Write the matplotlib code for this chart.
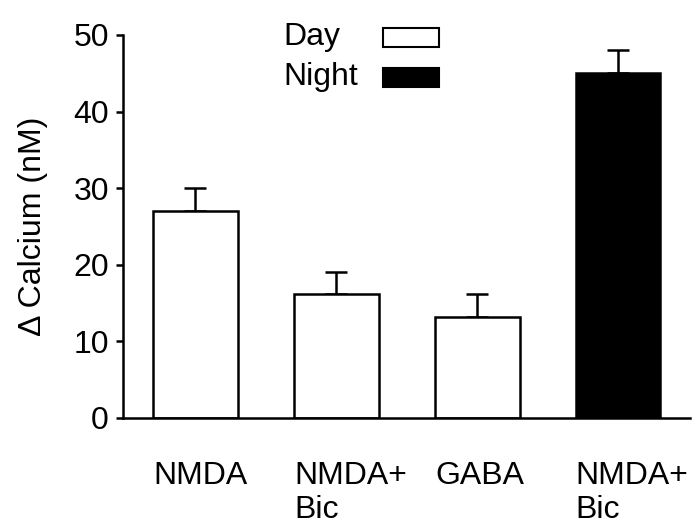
import matplotlib
matplotlib.use("Agg")
import matplotlib.pyplot as plt
from matplotlib.patches import Rectangle

plt.rcParams['font.family'] = ['Liberation Sans', 'DejaVu Sans']

# dados
categorias = ["NMDA", "NMDA+\nBic", "GABA", "NMDA+\nBic"]
valores = [27, 16.2, 13.1, 45.1]
erros = [3.0, 2.9, 3.1, 2.9]
grupo = ["Day", "Day", "Day", "Night"]
cores = {"Day": "white", "Night": "black"}

W, H = 699, 529
fig = plt.figure(figsize=(W / 100, H / 100), dpi=100)
ax = fig.add_axes([122.7 / W, 1 - 417.7 / H, (690 - 122.7) / W, (417.7 - 35) / H])

x = list(range(len(categorias)))
largura = 0.6
ax.bar(x, valores, width=largura, color=[cores[g] for g in grupo],
       edgecolor="black", linewidth=1.8, zorder=2)
# barras de erro só para cima
ax.errorbar(x, valores, yerr=[[0] * len(erros), erros], fmt="none",
            ecolor="black", elinewidth=1.8, capsize=8, capthick=1.8, zorder=1)

ax.set_xlim(-0.516, 3.51)
ax.set_ylim(0, 50)
ax.set_yticks([0, 10, 20, 30, 40, 50])
ax.tick_params(axis="y", labelsize=23, width=1.8, length=5, pad=5)

ax.set_xticks([i - largura / 2 for i in x])
ax.set_xticklabels(categorias, ha="left", fontsize=23, linespacing=1.2)
ax.tick_params(axis="x", length=0, pad=31)

for lado in ["top", "right"]:
    ax.spines[lado].set_visible(False)
for lado in ["left", "bottom"]:
    ax.spines[lado].set_linewidth(1.8)

ax.set_ylabel("\u0394 Calcium (nM)", fontsize=23)
ax.yaxis.set_label_coords(-0.132, 0.5)

# legenda desenhada à mão (texto à esquerda, caixa à direita)
for nome, yc in [("Day", 37), ("Night", 77)]:
    fig.text(283 / W, 1 - yc / H, nome, fontsize=23, ha="left", va="center")
    fig.patches.append(Rectangle((383 / W, 1 - (yc + 9.5) / H), 56 / W, 19 / H,
                                 transform=fig.transFigure, facecolor=cores[nome],
                                 edgecolor="black", linewidth=1.5))

fig.savefig("out.png", dpi=100)
